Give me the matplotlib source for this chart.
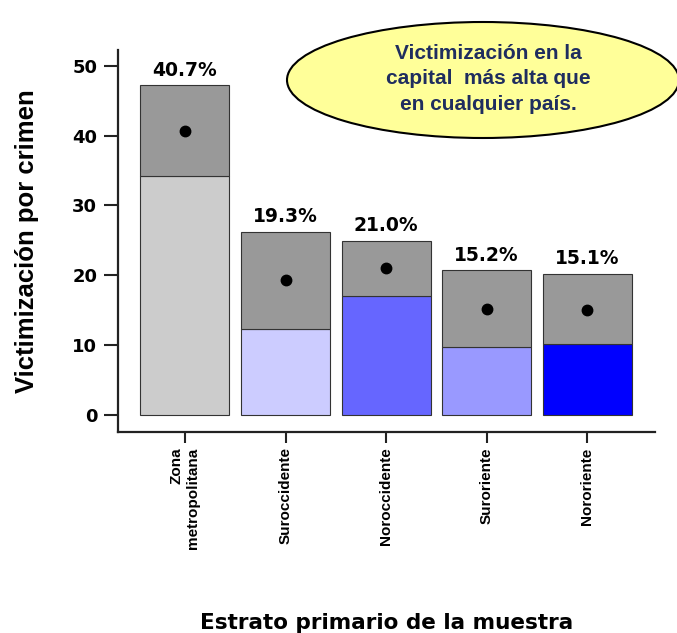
import matplotlib
matplotlib.use('Agg')
import numpy as np
import matplotlib.pyplot as plt
from matplotlib.patches import Ellipse

# Datos del grafico
estratos = ['Zona\nmetropolitana', 'Suroccidente', 'Noroccidente', 'Suroriente', 'Nororiente']
victimizacion = [40.7, 19.3, 21.0, 15.2, 15.1]
limite_inf = [34.2, 12.3, 17.0, 9.7, 10.2]
limite_sup = [47.2, 26.2, 24.9, 20.7, 20.2]
colores = ['#CCCCCC', '#CCCCFF', '#6666FF', '#9999FF', '#0000FF']
etiquetas = ['{:.1f}%'.format(v) for v in victimizacion]
yticks = [0, 10, 20, 30, 40, 50]

fig = plt.figure(figsize=(6.77, 6.33), dpi=100)
fig.patch.set_facecolor('white')
ax = fig.add_axes([118 / 677, 1 - 432 / 633, 537 / 677, 382 / 633])

x = np.arange(len(estratos))
ancho = 0.885
lower = np.array(limite_inf)
upper = np.array(limite_sup)

ax.bar(x, lower, width=ancho, color=colores, edgecolor='#333333', linewidth=0.8, zorder=2)
ax.bar(x, upper - lower, bottom=lower, width=ancho, color='#999999',
       edgecolor='#333333', linewidth=0.8, zorder=2)
ax.plot(x, victimizacion, 'o', color='black', markersize=7.5, zorder=3)

for xi, top, txt in zip(x, limite_sup, etiquetas):
    ax.annotate(txt, (xi, top), xytext=(0, 7), textcoords='offset points',
                ha='center', va='baseline', fontsize=13.5, fontweight='bold',
                family='DejaVu Sans')

ax.set_xlim(-0.666, 4.673)
ax.set_ylim(-2.43, 52.25)

for s in ['top', 'right']:
    ax.spines[s].set_visible(False)
for s in ['left', 'bottom']:
    ax.spines[s].set_linewidth(1.6)
    ax.spines[s].set_color('#222222')

ax.set_yticks(yticks)
ax.set_yticklabels([str(t) for t in yticks], fontsize=13, fontweight='bold', family='DejaVu Sans')
ax.tick_params(axis='y', length=10, width=1.5, pad=5, color='#222222')

ax.set_xticks(x)
ax.set_xticklabels(estratos, rotation=90, fontsize=11, fontweight='bold',
                   family='Liberation Sans', va='top', ha='center', multialignment='right')
ax.tick_params(axis='x', length=8, width=1.5, pad=3, color='#222222')

ax.set_ylabel('Victimización por crimen', fontsize=18.5, fontweight='bold',
              family='Liberation Sans', ha='center', va='center')
ax.yaxis.set_label_coords(-91 / 537, 0.5)
ax.set_xlabel('Estrato primario de la muestra', fontsize=15.5, fontweight='bold',
              family='DejaVu Sans', ha='center', va='baseline')
ax.xaxis.set_label_coords(0.5, (432 - 629) / 382)

# Globo de texto
globo = Ellipse((483 / 677, 1 - 80 / 633), 392 / 677, 116 / 633,
                transform=fig.transFigure, facecolor='#FFFF99',
                edgecolor='black', linewidth=1.5, zorder=5)
fig.patches.append(globo)
fig.text(488 / 677, 1 - 79 / 633, 'Victimización en la\ncapital  más alta que\nen cualquier país.',
         ha='center', va='center', fontsize=15, fontweight='bold',
         family='Liberation Sans', color='#1F2D5F', linespacing=1.45, zorder=6)

fig.savefig('out.png', dpi=100)
